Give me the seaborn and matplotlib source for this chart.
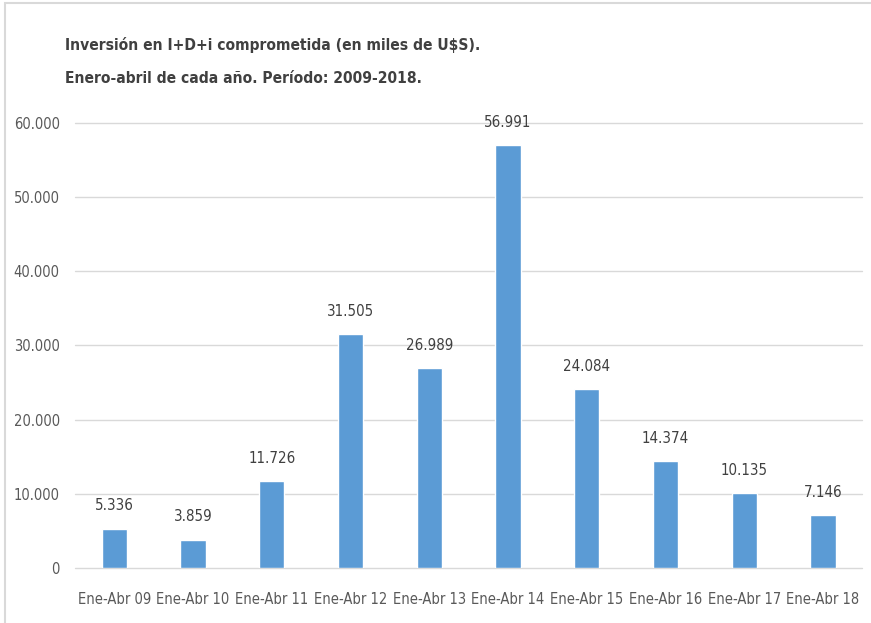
import numpy as np
import pandas as pd
import matplotlib.pyplot as plt
import matplotlib.ticker as mticker
from matplotlib.patches import Rectangle
import seaborn as sns

# Datos
periodos = ["Ene-Abr 09", "Ene-Abr 10", "Ene-Abr 11", "Ene-Abr 12", "Ene-Abr 13",
            "Ene-Abr 14", "Ene-Abr 15", "Ene-Abr 16", "Ene-Abr 17", "Ene-Abr 18"]
inversion = [5336, 3859, 11726, 31505, 26989, 56991, 24084, 14374, 10135, 7146]
ticks_y = [0, 10000, 20000, 30000, 40000, 50000, 60000]

df = pd.DataFrame({"periodo": periodos, "inversion": inversion})

sns.set_style("white")
plt.rcParams["font.family"] = ["DejaVu Sans"]
plt.rcParams["font.stretch"] = "condensed"

def miles(v, pos=None):
    return f"{v:,.0f}".replace(",", ".")

fig = plt.figure(figsize=(8.71, 6.23), dpi=100)
ax = fig.add_axes([0.086, 0.088, 0.904, 0.715])

sns.barplot(data=df, x="periodo", y="inversion", color="#5B9BD5", saturation=1,
            width=0.32, ax=ax)

ax.set_ylim(0, 60000)
ax.set_yticks(ticks_y)
ax.yaxis.set_major_formatter(mticker.FuncFormatter(miles))
ax.grid(axis="y", color="#D9D9D9", linewidth=1)
ax.set_axisbelow(True)
for gl in ax.get_ygridlines():
    gl.set_clip_on(False)
for s in ax.spines.values():
    s.set_visible(False)
ax.tick_params(axis="both", length=0, labelsize=10.5, colors="#595959")
ax.tick_params(axis="x", pad=17)
ax.tick_params(axis="y", pad=11)
ax.set_xlabel("")
ax.set_ylabel("")

for i, v in enumerate(inversion):
    ax.annotate(miles(v), (i, v), xytext=(0, 11), textcoords="offset points",
                ha="center", va="bottom", fontsize=10.8, color="#404040")

fig.text(0.075, 0.927, "Inversión en I+D+i comprometida (en miles de U$S).",
         fontsize=11.2, fontweight="bold", color="#404040", va="center")
fig.text(0.075, 0.874, "Enero-abril de cada año. Período: 2009-2018.",
         fontsize=11.2, fontweight="bold", color="#404040", va="center")

# marco
fig.patches.append(Rectangle((0.006, -0.01), 1.1, 1.005, transform=fig.transFigure,
                             fill=False, edgecolor="#D9D9D9", linewidth=1.5))

fig.savefig("out.png", dpi=100)
